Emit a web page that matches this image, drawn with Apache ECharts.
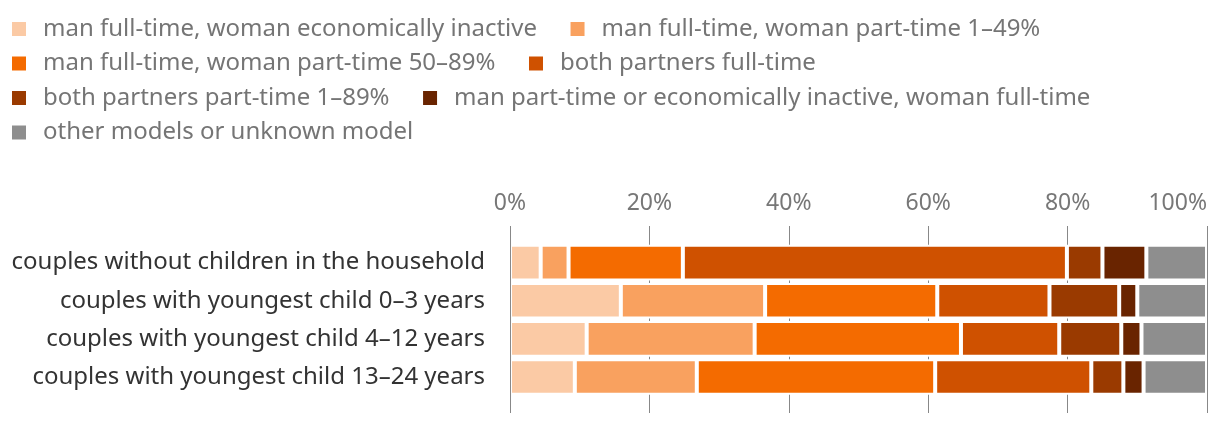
<!DOCTYPE html>
<html>
<head>
<meta charset="utf-8">
<style>
html,body{margin:0;padding:0;background:#fff;}
#chart{width:1220px;height:426px;}
</style>
<script src="https://cdn.jsdelivr.net/npm/echarts@6/dist/echarts.min.js"></script>
</head>
<body>
<div id="chart"></div>
<script>
const categories = [
  'couples without children in the household',
  'couples with youngest child 0–3 years',
  'couples with youngest child 4–12 years',
  'couples with youngest child 13–24 years'
];
const seriesNames = [
  'man full-time, woman economically inactive',
  'man full-time, woman part-time 1–49%',
  'man full-time, woman part-time 50–89%',
  'both partners full-time',
  'both partners part-time 1–89%',
  'man part-time or economically inactive, woman full-time',
  'other models or unknown model'
];
const manFtWomanInactive = [4.4, 15.9, 11.0, 9.3];
const manFtWomanPt1to49 = [4.0, 20.7, 24.1, 17.5];
const manFtWomanPt50to89 = [16.4, 24.7, 29.6, 34.2];
const bothFullTime = [55.1, 16.1, 14.1, 22.4];
const bothPartTime = [5.1, 10.0, 8.9, 4.6];
const womanFtManPtOrInactive = [6.3, 2.6, 2.9, 2.9];
const otherOrUnknown = [8.7, 10.0, 9.4, 9.1];
const xTicks = [0, 20, 40, 60, 80, 100];
const colors = ['#fbcaa5', '#f9a15f', '#f46b00', '#cf5100', '#9a3a00', '#692400', '#8e8e8e'];

const seriesData = [manFtWomanInactive, manFtWomanPt1to49, manFtWomanPt50to89, bothFullTime, bothPartTime, womanFtManPtOrInactive, otherOrUnknown];
const FONT = 'Noto Sans';

const series = seriesData.map((d, i) => ({
  name: seriesNames[i],
  type: 'bar',
  stack: 'total',
  xAxisIndex: 0,
  yAxisIndex: 0,
  data: d,
  barWidth: 35.6,
  itemStyle: { color: colors[i], borderColor: '#ffffff', borderWidth: 2 },
  emphasis: { disabled: true },
  animation: false
}));
series.push({
  type: 'line',
  xAxisIndex: 1,
  yAxisIndex: 1,
  data: [],
  silent: true,
  animation: false
});

const chart = echarts.init(document.getElementById('chart'), null, { renderer: 'canvas' });
chart.setOption({
  animation: false,
  backgroundColor: '#ffffff',
  textStyle: { fontFamily: FONT },
  legend: {
    data: seriesNames,
    left: 10,
    top: 17,
    width: 1150,
    padding: 0,
    itemGap: 10.5,
    itemWidth: 16,
    itemHeight: 16,
    icon: 'rect',
    selectedMode: false,
    textStyle: {
      fontFamily: FONT,
      fontSize: 24,
      color: '#757575',
      lineHeight: 21,
      padding: [0, 21, 0, 11]
    }
  },
  grid: [
    { left: 510, width: 697, top: 243.6, height: 152.4, containLabel: false },
    { left: 510, width: 697, top: 226, height: 187, containLabel: false }
  ],
  xAxis: [
    {
      gridIndex: 0, type: 'value', min: 0, max: 100, interval: 20,
      show: false
    },
    {
      gridIndex: 1, type: 'value', min: 0, max: 100, interval: 20,
      position: 'top',
      axisLine: { show: false },
      axisTick: { show: false },
      splitLine: { show: true, lineStyle: { color: '#888888', width: 1 } },
      axisLabel: {
        show: true,
        margin: 11,
        fontFamily: FONT,
        fontSize: 23,
        color: '#777777',
        alignMaxLabel: 'right',
        formatter: v => (xTicks.indexOf(v) >= 0 ? v + '%' : '')
      }
    }
  ],
  yAxis: [
    {
      gridIndex: 0, type: 'category', data: categories, inverse: true,
      z: 10,
      axisLine: { show: true, lineStyle: { color: '#888888', width: 1 } },
      axisTick: { show: false },
      splitLine: { show: false },
      axisLabel: { margin: 25, fontFamily: FONT, fontSize: 24, color: '#333333' }
    },
    {
      gridIndex: 1, type: 'value', min: 0, max: 1, show: false
    }
  ],
  series: series
});
</script>
</body>
</html>
